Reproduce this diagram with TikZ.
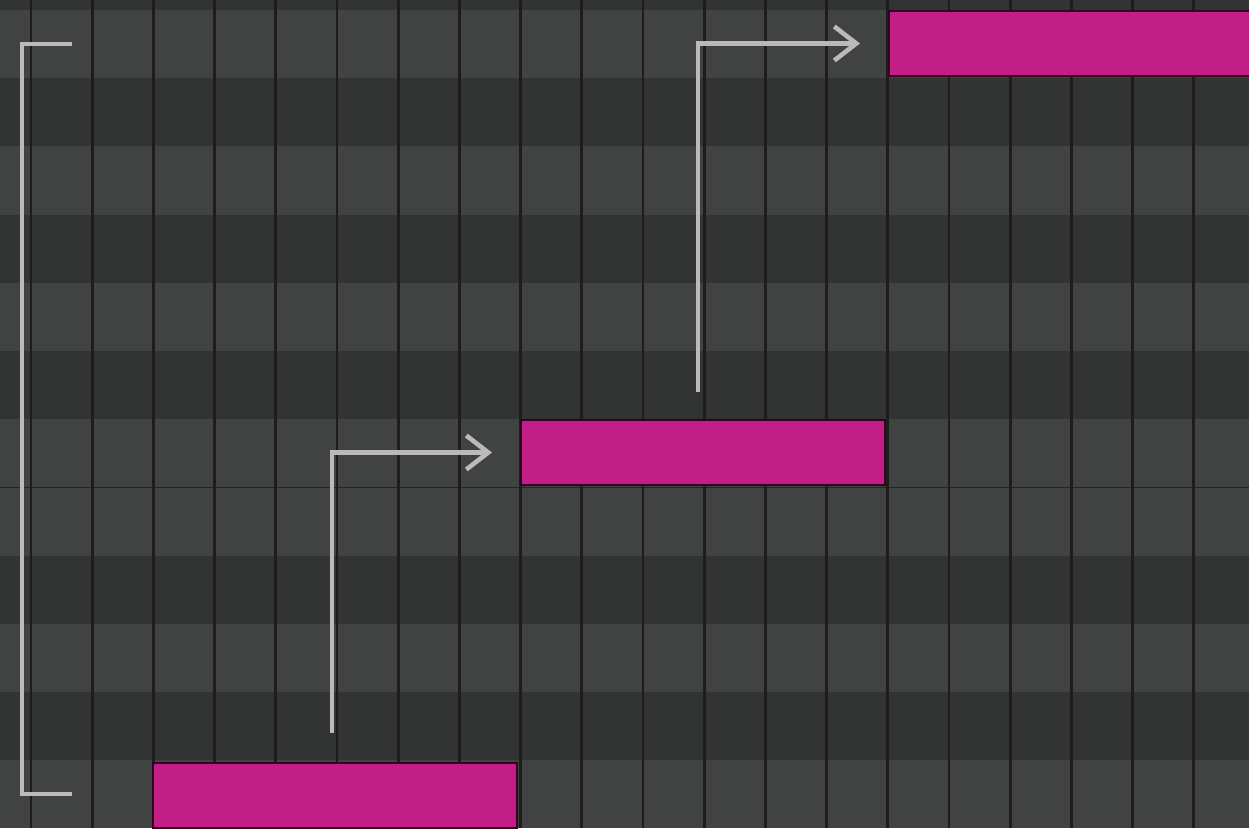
\documentclass[tikz,border=0pt]{standalone}
\usepackage{tikz}
\usetikzlibrary{positioning,arrows.meta}

\definecolor{rollLight}{RGB}{65,66,66}
\definecolor{rollDark}{RGB}{50,51,51}
\definecolor{rollLine}{RGB}{29,29,29}
\definecolor{noteFill}{RGB}{194,30,136}
\definecolor{noteEdge}{RGB}{50,2,30}
\definecolor{guide}{RGB}{186,186,186}

\begin{document}
\begin{tikzpicture}[x=0.2mm, y=-0.2mm]

	\useasboundingbox (0,0) rectangle (1249,828);
	\clip (0,0) rectangle (1249,828);

	% piano roll rows
	\fill[rollLight] (0,0) rectangle (1249,828);
	\fill[rollDark] (0,0) rectangle (1249,10);
	\foreach \i in {1,3,5,8,10}
		\fill[rollDark] (0,{10+68.2*\i}) rectangle (1249,{78.2+68.2*\i});
	\draw[rollLine!80!rollLight, line width=0.9pt] (0,487.4) -- (1249,487.4);
	\foreach \k in {0,...,19}
		\draw[rollLine, line width=1.6pt] ({31+61.2*\k},0) -- ({31+61.2*\k},828);

	\node[draw=noteEdge,
	rectangle,
	fill=noteFill,
	line width=1.6pt,
	inner sep=0pt,
	outer sep=0pt,
	minimum width=7.28cm,
	minimum height=1.3cm,
	anchor=north west] (noteC) at (153,763) {};

	\node[draw=noteEdge,
	rectangle,
	fill=noteFill,
	line width=1.6pt,
	inner sep=0pt,
	outer sep=0pt,
	minimum width=7.28cm,
	minimum height=1.3cm] (noteF) [above right = 5.56cm and 0.08cm of noteC] {};

	\node[draw=noteEdge,
	rectangle,
	fill=noteFill,
	line width=1.6pt,
	inner sep=0pt,
	outer sep=0pt,
	minimum width=7.28cm,
	minimum height=1.3cm] (noteB) [above right = 6.88cm and 0.08cm of noteF] {};

	\coordinate (brTop) at (72,44);
	\coordinate (brBottom) at (72,794);

	\draw[guide, line width=2.4pt] (brTop) -- ++(-50,0) |- (brBottom);
	\draw[guide, line width=2.6pt, -{Straight Barb[length=4.4mm, width=6.8mm]}] ([shift={(-3,-30)}]noteC.north) |- ([xshift=-0.58cm]noteF.west);
	\draw[guide, line width=2.6pt, -{Straight Barb[length=4.4mm, width=6.8mm]}] ([shift={(-5,-28)}]noteF.north) |- ([xshift=-0.58cm]noteB.west);

\end{tikzpicture}
\end{document}
